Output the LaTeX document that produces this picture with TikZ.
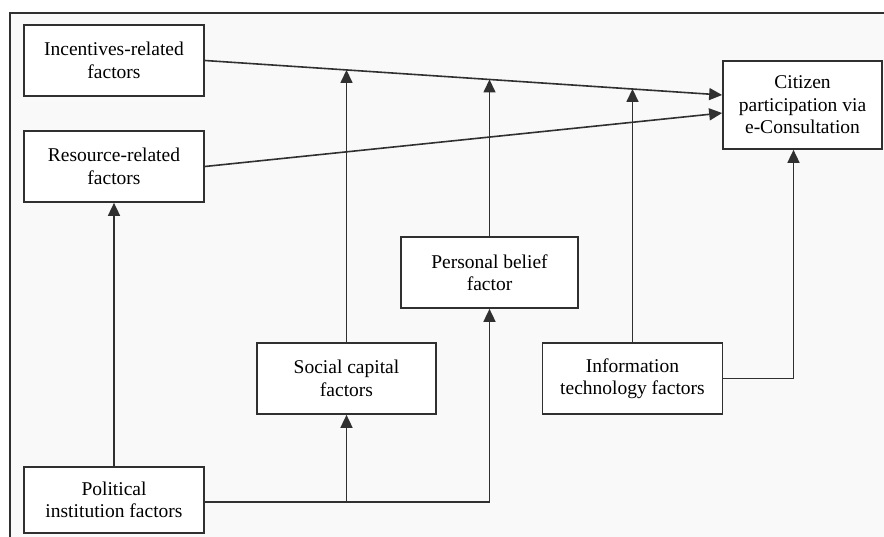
\documentclass[tikz,border=0pt]{standalone}
\usepackage{fontspec}
\setmainfont{Liberation Serif}
\usetikzlibrary{arrows.meta,calc}
\definecolor{ink}{HTML}{303030}
\definecolor{paper}{HTML}{F9F9F9}
\tikzset{
  factor/.style={draw=ink, line width=1.7pt, fill=white, align=center,
    font=\fontsize{19.5}{22.5}\selectfont, inner sep=0pt,
    minimum width=180pt, minimum height=71pt},
  link/.style={draw=ink, line width=1.6pt},
  arr/.style={link, -{Triangle[length=13pt,width=12pt]}}
}
\begin{document}
\begin{tikzpicture}[x=1pt,y=-1pt]
  \useasboundingbox (0,0) rectangle (884,537);
  % outer frame
  \fill[paper] (10,13) rectangle (884,537);
  \draw[ink, line width=1.5pt] (10,537) -- (10,13) -- (884,13);

  % factor boxes
  \node[factor] (inc) at (114,60.5) {Incentives-related\\factors};
  \node[factor] (res) at (114,166.5) {Resource-related\\factors};
  \node[factor, minimum width=159pt, minimum height=88pt] (cit) at (802.5,105)
    {Citizen\\participation via\\e-Consultation};
  \node[factor, minimum width=177pt] (pers) at (489.5,272.5) {Personal belief\\factor};
  \node[factor, minimum width=179pt] (soc) at (346.5,378.5) {Social capital\\factors};
  \node[factor] (info) at (632.5,378.5) {Information\\technology factors};
  \node[factor, minimum height=66pt] (pol) at (114,500) {Political\\institution factors};

  % end points on the citizen box
  \coordinate (citA) at ($(cit.west)+(0,-10)$);
  \coordinate (citB) at ($(cit.west)+(0,8)$);
  \coordinate (citC) at ($(cit.south)+(-9,0)$);

  % direct effects
  \draw[arr] (inc.east) -- (citA);
  \draw[arr] (res.east) -- (citB);

  % moderating effects onto the upper path
  \coordinate (ms) at ($(inc.east)!0.2746!(citA)$);
  \coordinate (mp) at ($(inc.east)!0.5501!(citA)$);
  \coordinate (mi) at ($(inc.east)!0.8247!(citA)$);
  \draw[arr] (soc.north) -- (soc.north |- ms);
  \draw[arr] (pers.north) -- (pers.north |- mp);
  \draw[arr] (info.north) -- (info.north |- mi);

  % political institution factors
  \coordinate (pj) at ($(pol.east)+(0,2)$);
  \draw[arr] (pol.north) -- (res.south);
  \draw[arr] (pj) -- (pers.south |- pj) -- (pers.south);
  \draw[arr] (soc.south |- pj) -- (soc.south);

  % information technology factors
  \draw[arr] (info.east) -- (citC |- info.east) -- (citC);
\end{tikzpicture}
\end{document}
